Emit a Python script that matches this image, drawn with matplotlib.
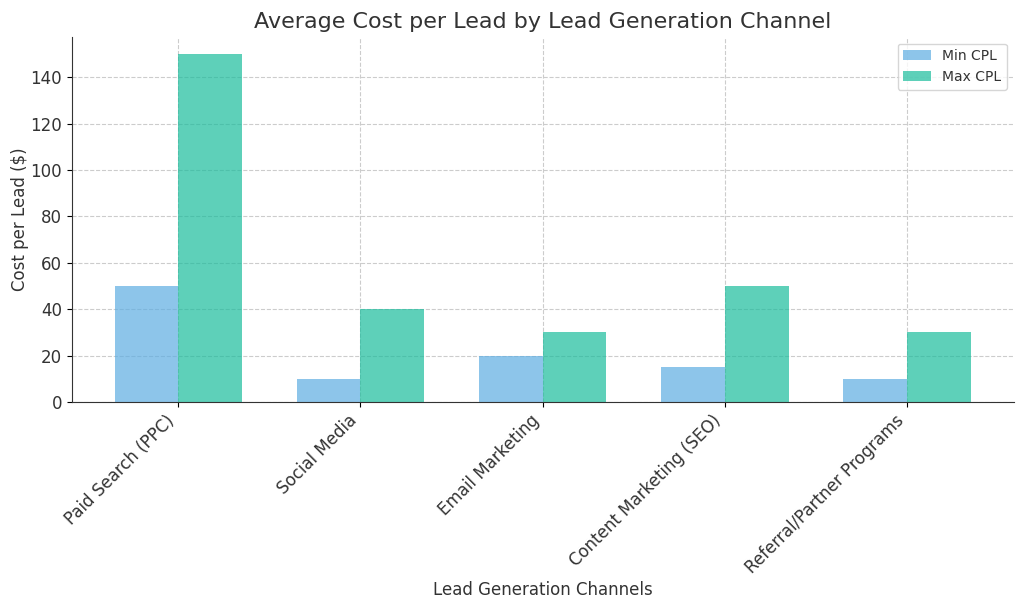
import matplotlib
matplotlib.use("Agg")
import matplotlib.pyplot as plt
import numpy as np

channels = ["Paid Search (PPC)", "Social Media", "Email Marketing",
            "Content Marketing (SEO)", "Referral/Partner Programs"]
min_cpl = [50, 10, 20, 15, 10]
max_cpl = [150, 40, 30, 50, 30]

fig = plt.figure(figsize=(10.24, 6.11), dpi=100)
ax = fig.add_axes([0.070, 0.342, 0.920, 0.598])

x = np.arange(len(channels))
w = 0.35
ax.bar(x - w/2, min_cpl, w, color="#5DADE2", alpha=0.7, label="Min CPL")
ax.bar(x + w/2, max_cpl, w, color="#1ABC9C", alpha=0.7, label="Max CPL")

ax.set_title("Average Cost per Lead by Lead Generation Channel", fontsize=16, color="#333333")
ax.set_xlabel("Lead Generation Channels", fontsize=12, color="#333333", labelpad=3)
ax.set_ylabel("Cost per Lead ($)", fontsize=12, color="#333333", labelpad=1)
ax.set_xticks(x)
ax.set_xticklabels(channels, rotation=45, ha="right", fontsize=12, color="#333333")
ax.tick_params(axis="y", labelsize=12, labelcolor="#333333")
ax.grid(True, linestyle="--", color="#cccccc", linewidth=0.8)
ax.set_axisbelow(True)
for s in ["top", "right"]:
    ax.spines[s].set_visible(False)
ax.spines["left"].set_color("#333333")
ax.spines["bottom"].set_color("#333333")
ax.legend(loc="upper right", fontsize=10, labelcolor="#333333")

fig.savefig("out.png", dpi=100)
